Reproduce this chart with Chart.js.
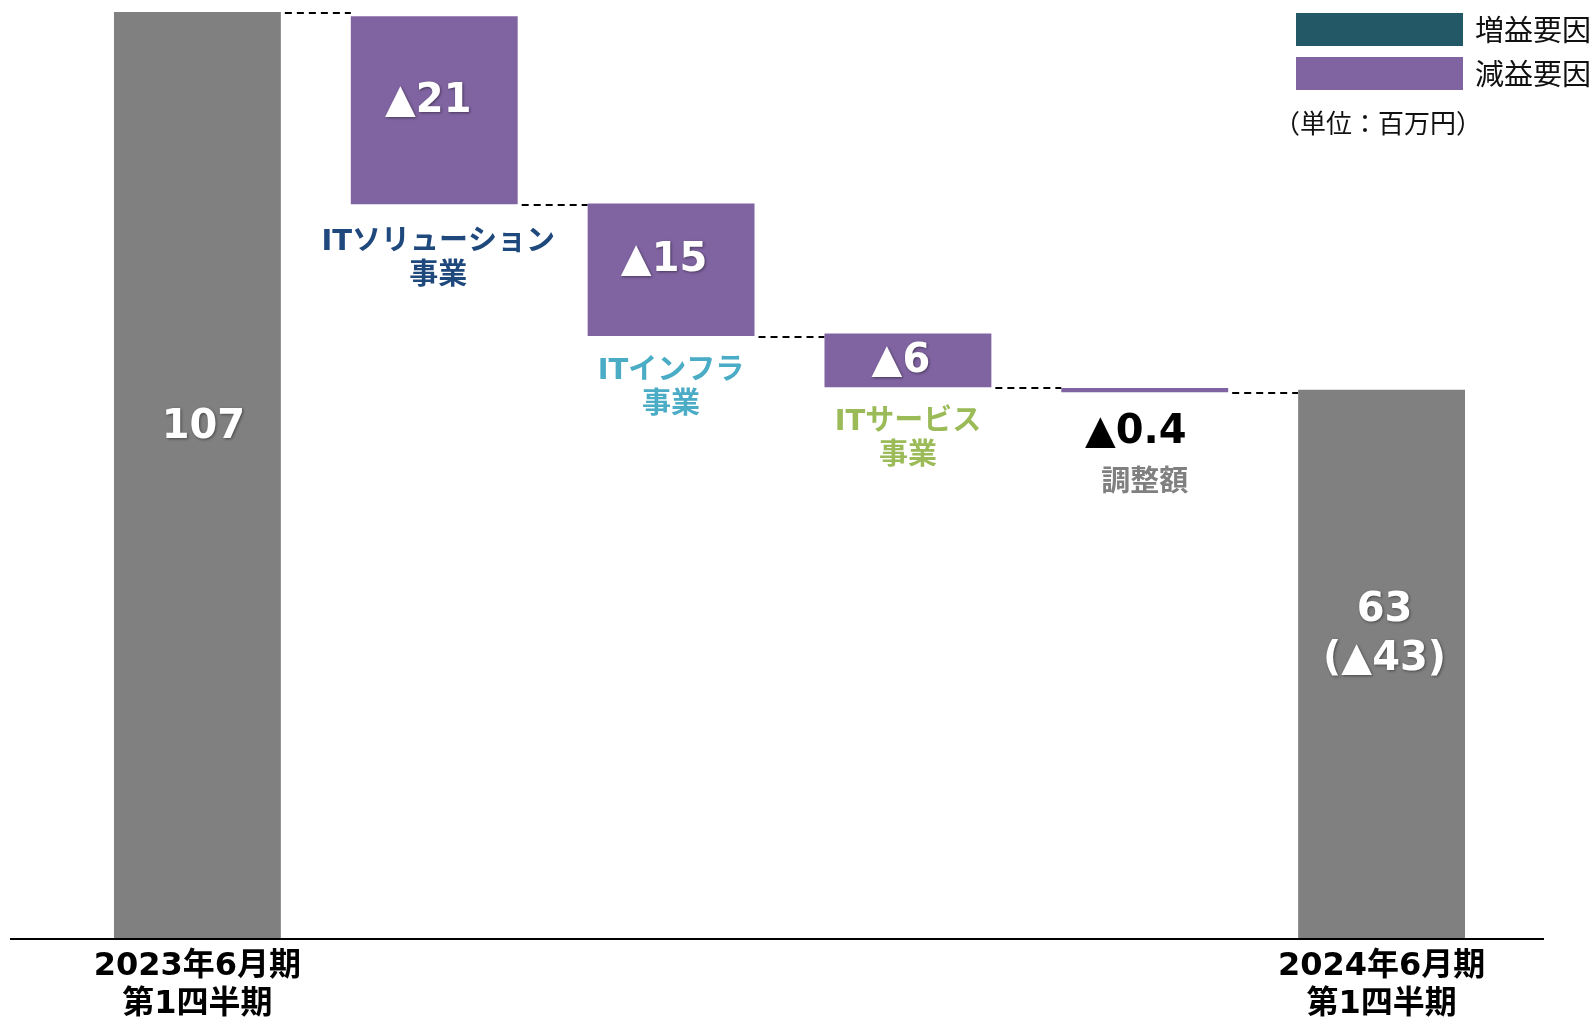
<!DOCTYPE html>
<html lang="ja">
<head>
<meta charset="UTF-8">
<title>営業利益 増減要因</title>
<style>
  html, body { margin: 0; padding: 0; background: #fff; }
  #wrap { width: 1594px; height: 1023px; position: relative; }
</style>
</head>
<body>
<div id="wrap"><canvas id="chart"></canvas></div>
<script src="https://cdn.jsdelivr.net/npm/chart.js"></script>
<script>
// data (百万円)
const categories = [['2023年6月期', '第1四半期'], ['ITソリューション', '事業'], ['ITインフラ', '事業'], ['ITサービス', '事業'], ['調整額'], ['2024年6月期', '第1四半期']];
const barKinds = ['total', 'down', 'down', 'down', 'down', 'total'];
const barStart = [0, 84.8, 69.6, 63.7, 63.1, 0];
const barEnd = [107, 106.5, 84.9, 69.9, 63.6, 63.4];
const valueLabels = [['107'], ['▲21'], ['▲15'], ['▲6'], ['▲0.4'], ['63', '(▲43)']];
const legendLabels = ['増益要因', '減益要因'];
const unitLabel = '（単位：百万円）';

const GRAY = '#808080';
const PURPLE = '#8064A2';
const TEAL = '#235967';
const nameColors = [null, '#1F497D', '#4BACC6', '#9BBB59', '#808080', null];
const FONT = '"DejaVu Sans", "Noto Sans CJK JP", sans-serif';

// label offsets relative to bar middle (px)
const valueDx = [6, -6, -7, -7, -9, 3];
const valueDy = [-48, -9, -9, 1, 0, -54];

const waterfallDecor = {
    id: 'waterfallDecor',
    beforeDatasetsDraw(chart) {
        const ctx = chart.ctx;
        const bars = chart.getDatasetMeta(0).data;
        const y = chart.scales.y;
        ctx.save();
        ctx.strokeStyle = '#000';
        ctx.lineWidth = 2;
        ctx.setLineDash([7, 5]);
        for (let i = 0; i < bars.length - 1; i++) {
            const a = bars[i], b = bars[i + 1];
            const level = barKinds[i] === 'total' ? barEnd[i] : barStart[i];
            const py = Math.round(y.getPixelForValue(level)) + 1;
            ctx.beginPath();
            ctx.moveTo(a.x + a.width / 2 + 4, py);
            ctx.lineTo(b.x - b.width / 2, py);
            ctx.stroke();
        }
        ctx.restore();
    },
    afterDatasetsDraw(chart) {
        const ctx = chart.ctx;
        const bars = chart.getDatasetMeta(0).data;
        const y = chart.scales.y;

        // baseline
        ctx.save();
        const y0 = y.getPixelForValue(0);
        ctx.strokeStyle = '#000';
        ctx.lineWidth = 2;
        ctx.beginPath();
        ctx.moveTo(10, y0);
        ctx.lineTo(1544, y0);
        ctx.stroke();

        ctx.textAlign = 'center';
        ctx.textBaseline = 'middle';

        bars.forEach((bar, i) => {
            const top = Math.min(bar.y, bar.base);
            const bottom = Math.max(bar.y, bar.base);
            const mid = (top + bottom) / 2;
            const lines = valueLabels[i];

            ctx.font = 'bold 40px ' + FONT;
            if (i === 4) {
                // too thin for a label inside
                ctx.fillStyle = '#000';
                ctx.fillText(lines[0], bar.x + valueDx[i], bottom + 40);
            } else {
                ctx.fillStyle = '#fff';
                ctx.shadowColor = 'rgba(0,0,0,0.45)';
                ctx.shadowBlur = 3;
                ctx.shadowOffsetX = 1;
                ctx.shadowOffsetY = 1;
                lines.forEach((t, k) => {
                    ctx.fillText(t, bar.x + valueDx[i], mid + valueDy[i] + k * 49);
                });
            }
            ctx.shadowColor = 'transparent';
            ctx.shadowBlur = 0;
            ctx.shadowOffsetX = 0;
            ctx.shadowOffsetY = 0;

            // names under the change bars
            if (barKinds[i] !== 'total') {
                ctx.font = 'bold 29px ' + FONT;
                ctx.fillStyle = nameColors[i];
                const startY = i === 4 ? bottom + 91 : bottom + (i === 1 ? 38 : 35);
                categories[i].forEach((t, k) => {
                    ctx.fillText(t, bar.x + (i === 1 ? 4 : 0), startY + k * 34);
                });
            }
        });
        ctx.restore();
    },
    afterDraw(chart) {
        const ctx = chart.ctx;
        ctx.save();
        const colors = [TEAL, PURPLE];
        ctx.textAlign = 'left';
        ctx.textBaseline = 'middle';
        ctx.font = '29px "Noto Sans CJK JP", sans-serif';
        legendLabels.forEach((t, k) => {
            const by = 13 + k * 44;
            ctx.fillStyle = colors[k];
            ctx.fillRect(1296, by, 167, 33);
            ctx.fillStyle = '#111';
            ctx.fillText(t, 1475, by + 17);
        });
        ctx.font = '26px "Noto Sans CJK JP", sans-serif';
        ctx.fillText(unitLabel, 1274, 123);
        ctx.restore();
    }
};

new Chart(document.getElementById('chart'), {
    type: 'bar',
    data: {
        labels: categories,
        datasets: [{
            data: barStart.map((s, i) => [s, barEnd[i]]),
            backgroundColor: barKinds.map(k => k === 'total' ? GRAY : PURPLE),
            borderWidth: 0,
            borderSkipped: false,
            barPercentage: 0.7046,
            categoryPercentage: 1
        }]
    },
    options: {
        responsive: true,
        maintainAspectRatio: false,
        animation: false,
        layout: { padding: { left: 79, right: 94, top: 12, bottom: 0 } },
        plugins: {
            legend: { display: false },
            tooltip: { enabled: false }
        },
        scales: {
            x: {
                grid: { display: false, drawTicks: false },
                border: { display: false },
                afterFit: (scale) => { scale.height = 84; },
                ticks: {
                    autoSkip: false,
                    maxRotation: 0,
                    minRotation: 0,
                    padding: 8,
                    color: '#000',
                    font: { family: FONT, size: 32, weight: 'bold', lineHeight: 1.2 },
                    callback: (v, i) => barKinds[i] === 'total' ? categories[i] : ''
                }
            },
            y: { display: false, min: 0, max: 107 }
        }
    },
    plugins: [waterfallDecor]
});
</script>
</body>
</html>
